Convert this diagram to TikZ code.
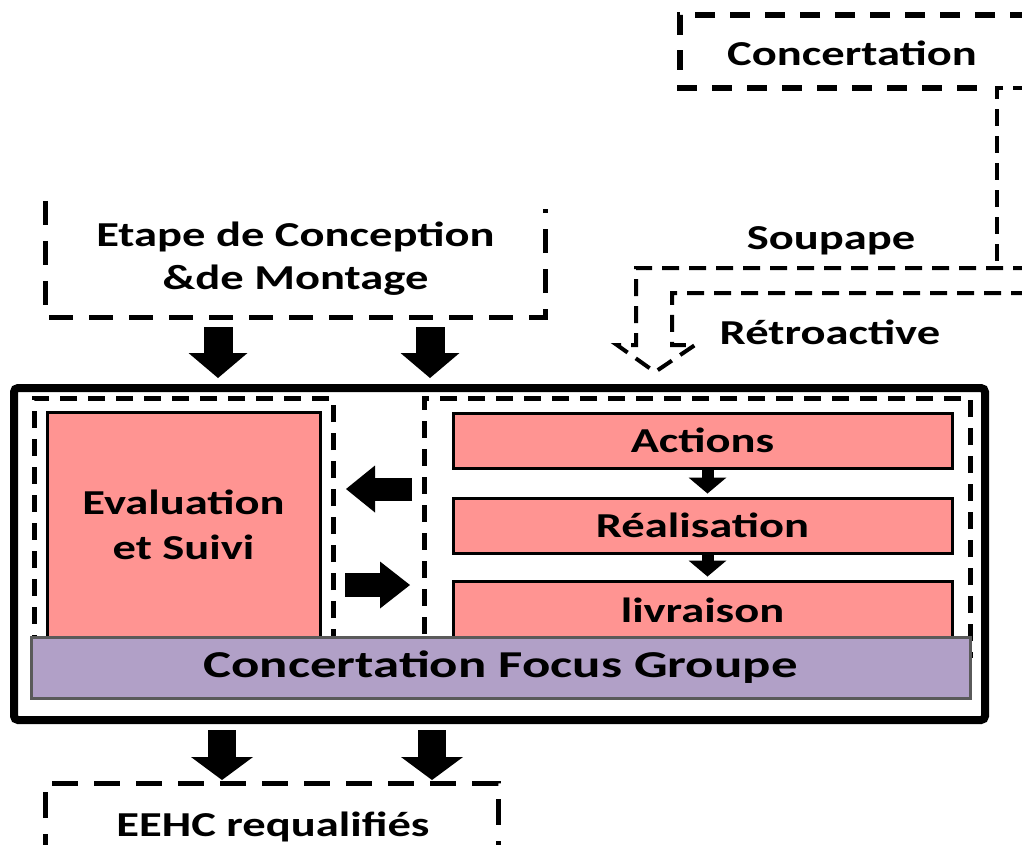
\documentclass[tikz,border=0pt]{standalone}
\usepackage{fontspec}
\setmainfont{Carlito}
\usetikzlibrary{arrows.meta}
\definecolor{boxpink}{RGB}{255,148,146}
\definecolor{focuslav}{RGB}{177,160,199}
\definecolor{focusedge}{RGB}{90,90,90}
% horizontally widened bold lettering
\newcommand\stx[1]{\scalebox{1.33}[1]{#1}}
\newcommand\sty[1]{\scalebox{1.39}[1]{#1}}
\begin{document}
\begin{tikzpicture}[x=1pt,y=-1pt,
  lbl/.style={font=\fontsize{35}{45}\selectfont\bfseries, inner sep=0pt, align=center},
  frame/.style={draw, line width=8pt, rounded corners=4pt, inner sep=0pt},
  zone/.style={draw, line width=5pt, dash pattern=on 17pt off 11pt, inner sep=0pt},
  stage/.style={draw, fill=boxpink, line width=3pt, inner sep=0pt,
    font=\fontsize{35}{45}\selectfont\bfseries, align=center},
  focus/.style={draw=focusedge, fill=focuslav, line width=3pt, inner sep=0pt,
    font=\fontsize{38}{45}\selectfont\bfseries},
  outline/.style={line width=5pt, dash pattern=on 24pt off 16pt},
  feedback/.style={line width=4pt, dash pattern=on 17pt off 10pt},
  blockarrow/.style n args={3}{line width=#1, line cap=butt,
    -{Triangle[width=#2, length=#3, line width=0pt]}},
]
\useasboundingbox (0,0) rectangle (1022,844);

% ---- top: consultation box and the feedback valve ----
\node[lbl] (concert) at (852,53) {\stx{Concertation}};
\draw[line width=6pt, dash pattern=on 20pt off 15pt]
  (1030,15) -- (680,15) -- (680,88) -- (977,88);
\coordinate (vin) at (1030,88);
\coordinate (vdown) at (997,268);
\draw[feedback] (vin) -- (997,88) -- (vdown);
\coordinate (fbtop) at (1030,268);
\coordinate (fbtip) at (655,372);
\draw[feedback] (fbtop) -- (636,268) -- (636,345) -- (617,345) -- (fbtip)
  -- (695,345) -- (672,345) -- (672,293) -- (1030,293);
\node[lbl] (soupape) at (831,241) {\stx{Soupape}};
\node[lbl] (retro) at (830,332) {\stx{Rétroactive}};

% ---- design and assembly stage ----
\node[lbl, minimum width=499pt, minimum height=112pt] (etape) at (295.5,259)
  {\stx{Etape de Conception}\\[-2pt]\stx{\&de Montage}};
\draw[outline] ([yshift=2pt]etape.north west) -- ([yshift=-2pt]etape.south west)
  -- ([yshift=-2pt]etape.south east) -- ([yshift=-6pt]etape.north east);

% ---- main frame ----
\node[frame, minimum width=971pt, minimum height=332pt] (main) at (499.5,554) {};
\node[zone, minimum width=299pt, minimum height=257pt] (leftzone) at (183.5,526.5) {};
\node[zone, minimum width=546pt, minimum height=257pt] (rightzone) at (697,526.5) {};

\node[stage, minimum width=273pt, minimum height=226pt] (eval) at (183.5,525)
  {\stx{Evaluation}\\\stx{et Suivi}};
\node[stage, minimum width=499pt, minimum height=55pt] (act) at (702.5,440.5)
  {\stx{Actions}};
\node[stage, minimum width=499pt, minimum height=55pt] (real) at (702.5,525.5)
  {\stx{Réalisation}};
\node[stage, minimum width=499pt, minimum height=58pt] (livr) at (702.5,610)
  {\stx{livraison}};
\node[focus, minimum width=939pt, minimum height=61pt] (grp) at (500.5,667.5)
  {\sty{Concertation Focus Groupe}};

% ---- output ----
\node[lbl] (eehc) at (273,827) {\stx{EEHC requalifiés}};
\coordinate (eehcL) at (45,860);
\coordinate (eehcR) at (498,860);
\draw[outline, dash pattern=on 26pt off 16pt] (eehcL) -- (45,783) -- (498,783) -- (eehcR);

% ---- block arrows ----
\coordinate (in1a) at (218,327);  \coordinate (in1b) at (218,378);
\coordinate (in2a) at (430,327);  \coordinate (in2b) at (430,378);
\draw[blockarrow={29pt}{59pt}{25pt}] (in1a) -- (in1b);
\draw[blockarrow={29pt}{59pt}{25pt}] (in2a) -- (in2b);

\coordinate (out1a) at (222,730); \coordinate (out1b) at (222,780);
\coordinate (out2a) at (432,730); \coordinate (out2b) at (432,780);
\draw[blockarrow={28pt}{62pt}{23pt}] (out1a) -- (out1b);
\draw[blockarrow={28pt}{62pt}{23pt}] (out2a) -- (out2b);

\coordinate (backa) at (412,489); \coordinate (backb) at (346,489);
\coordinate (fwda) at (345,585);  \coordinate (fwdb) at (410,585);
\draw[blockarrow={23pt}{47pt}{29pt}] (backa) -- (backb);
\draw[blockarrow={24pt}{47pt}{30pt}] (fwda) -- (fwdb);

\draw[blockarrow={12pt}{38pt}{16pt}] ([xshift=5pt]act.south) -- ([xshift=5pt,yshift=3pt]real.north);
\draw[blockarrow={12pt}{38pt}{16pt}] ([xshift=5pt]real.south) -- ([xshift=5pt,yshift=3pt]livr.north);
\end{tikzpicture}
\end{document}
